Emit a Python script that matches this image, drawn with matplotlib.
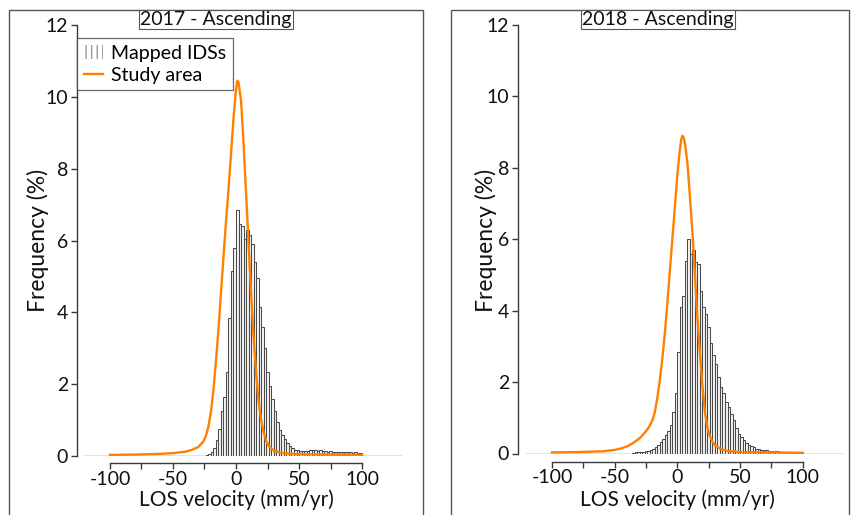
import matplotlib
matplotlib.use('Agg')
import matplotlib.pyplot as plt
from matplotlib.patches import Rectangle
from matplotlib.lines import Line2D
import numpy as np

plt.rcParams['font.family'] = ['Lato', 'DejaVu Sans']

# ---------------- data ----------------
bin_width = 2.0
first_center_2017 = -23
freq_2017 = [0.03, 0.06, 0.12, 0.22, 0.45, 0.75, 1.25, 1.65, 2.35, 3.85, 5.15, 5.8,
             6.85, 6.45, 6.4, 6.05, 6.3, 6.15, 5.9, 5.4, 4.95, 4.15, 3.6, 3.0, 2.35,
             1.95, 1.6, 1.25, 0.95, 0.72, 0.58, 0.48, 0.36, 0.27, 0.22, 0.18, 0.16,
             0.15, 0.14, 0.13, 0.14, 0.16, 0.17, 0.16, 0.15, 0.16, 0.14, 0.13, 0.12,
             0.13, 0.12, 0.11, 0.12, 0.11, 0.1, 0.1, 0.11, 0.1, 0.09, 0.1, 0.08, 0.07]
first_center_2018 = -35
freq_2018 = [0.02, 0.03, 0.03, 0.04, 0.05, 0.06, 0.08, 0.1, 0.13, 0.18, 0.25, 0.33,
             0.42, 0.52, 0.62, 0.8, 1.15, 1.7,
             2.85, 4.1, 4.4, 5.4, 6.0, 5.6, 5.7, 5.35, 5.3, 4.55, 4.1, 3.9, 3.55, 3.1,
             2.75, 2.5, 2.15, 1.85, 1.7, 1.45, 1.3, 1.1, 0.95, 0.72, 0.56,
             0.46, 0.37, 0.3, 0.24, 0.2, 0.17, 0.14, 0.12, 0.11, 0.1, 0.09, 0.08, 0.07,
             0.07, 0.06, 0.05, 0.05, 0.04, 0.04, 0.03, 0.03, 0.02, 0.02, 0.02, 0.01]

curve_2017_x = [-100, -80, -60, -50, -40, -35, -30, -26, -24, -22, -20, -18, -16, -14,
                -12, -10, -8, -6, -4, -2, 0, 1, 2, 4, 6, 8, 10, 12, 14, 16, 18, 20,
                22, 24, 26, 30, 35, 40, 50, 70, 100]
curve_2017_y = [0.03, 0.04, 0.06, 0.08, 0.12, 0.17, 0.25, 0.4, 0.55, 0.8, 1.2, 1.8,
                2.6, 3.5, 4.5, 5.5, 6.5, 7.4, 8.4, 9.4, 10.2, 10.45, 10.4, 9.9, 8.7,
                7.3, 5.9, 4.5, 3.3, 2.3, 1.5, 1.0, 0.65, 0.42, 0.28, 0.15, 0.09, 0.07,
                0.05, 0.04, 0.03]
curve_2018_x = [-100, -80, -60, -50, -45, -40, -35, -30, -26, -23, -20, -18, -16, -14,
                -12, -10, -8, -6, -4, -2, 0, 2, 3, 4, 5, 6, 8, 10, 12, 14, 16, 18, 20,
                22, 24, 26, 28, 30, 35, 40, 50, 100]
curve_2018_y = [0.03, 0.04, 0.06, 0.1, 0.14, 0.2, 0.3, 0.43, 0.58, 0.72, 0.92, 1.15,
                1.55, 2.05, 2.65, 3.35, 4.2, 5.1, 6.0, 6.9, 7.8, 8.5, 8.78, 8.9, 8.85,
                8.7, 8.15, 7.2, 6.2, 5.0, 3.8, 2.8, 1.9, 1.15, 0.72, 0.48, 0.33, 0.23,
                0.12, 0.07, 0.04, 0.02]

titles = ['2017 - Ascending', '2018 - Ascending']
xticks = [-100, -50, 0, 50, 100]
xminor = [-75, -25, 25, 75]
yticks = [0, 2, 4, 6, 8, 10, 12]
legend_labels = ['Mapped IDSs', 'Study area']
xlabel = 'LOS velocity (mm/yr)'
ylabel = 'Frequency (%)'

# ---------------- layout ----------------
W, H = 851, 515
fig = plt.figure(figsize=(W / 100, H / 100), dpi=100)

def fx(px):
    return px / W

def fy(py):
    return 1 - py / H

ORANGE = '#FF8000'
SPINE = '#3a3a3a'
TXT = '#111111'

panels = [
    dict(box=(9, 10, 423, 520), ax=(83, 25, 402, 456), xlim=(-121.4, 131.7),
         yoff=6, xoff=7, title_c=216, ylab_x=38, xlab_c=236,
         first=first_center_2017, freq=freq_2017, cx=curve_2017_x, cy=curve_2017_y,
         legend=True),
    dict(box=(451, 10, 849, 520), ax=(526, 25, 843, 453.5), xlim=(-120.7, 132.1),
         yoff=8, xoff=8, title_c=658, ylab_x=486, xlab_c=677,
         first=first_center_2018, freq=freq_2018, cx=curve_2018_x, cy=curve_2018_y,
         legend=False),
]

for i, p in enumerate(panels):
    bx0, by0, bx1, by1 = p['box']
    fig.add_artist(Rectangle((fx(bx0), fy(by1)), fx(bx1) - fx(bx0), fy(by0) - fy(by1),
                             transform=fig.transFigure, fill=False, ec='#555555',
                             lw=1.0, zorder=0))
    x0, y0, x1, y1 = p['ax']
    ax = fig.add_axes([fx(x0), fy(y1), fx(x1) - fx(x0), fy(y0) - fy(y1)])
    ax.set_facecolor('none')
    centers = [p['first'] + bin_width * k for k in range(len(p['freq']))]
    ax.bar(centers, p['freq'], width=bin_width, facecolor='#f4f4f4',
           edgecolor='#4a4a4a', linewidth=0.75, zorder=2)
    ax.axhline(0, color='#707070', lw=1.0, zorder=1)
    ax.plot(p['cx'], p['cy'], color=ORANGE, lw=1.7, zorder=3)
    ax.set_xlim(*p['xlim'])
    ax.set_ylim(0, 12)

    for s in ['top', 'right']:
        ax.spines[s].set_visible(False)
    ax.spines['left'].set_position(('outward', p['yoff'] * 0.72))
    ax.spines['bottom'].set_position(('outward', p['xoff'] * 0.72))
    ax.spines['bottom'].set_bounds(-100, 100)
    for s in ['left', 'bottom']:
        ax.spines[s].set_color(SPINE)
        ax.spines[s].set_linewidth(1.0)

    ax.set_xticks(xticks)
    ax.set_xticks(xminor, minor=True)
    ax.set_yticks(yticks)
    ax.tick_params(axis='both', which='both', direction='out', length=4.5,
                   width=1.0, color=SPINE, labelsize=14, labelcolor=TXT)
    ax.tick_params(axis='x', pad=1)
    ax.tick_params(axis='y', pad=2)
    ax.set_xticklabels([str(t) for t in xticks])

    fig.text(fx(p['xlab_c']), fy(500), xlabel, fontsize=15, color=TXT,
             ha='center', va='center')
    fig.text(fx(p['ylab_x']), fy(240), ylabel, rotation=90, fontsize=16.5,
             color=TXT, ha='center', va='center')

    fig.text(fx(p['title_c']), fy(19.5), titles[i], fontsize=14, color=TXT,
             ha='center', va='center',
             bbox=dict(boxstyle='square,pad=0.05', fc='white', ec='#555555', lw=0.8))

    if p['legend']:
        h_bar = Rectangle((0, 0), 1, 1, facecolor='white', edgecolor='#9a9a9a',
                          hatch='|||', lw=0)
        h_line = Line2D([0], [0], color=ORANGE, lw=1.7)
        leg = ax.legend([h_bar, h_line], legend_labels, loc='upper left',
                        bbox_to_anchor=(fx(77), fy(38)), bbox_transform=fig.transFigure,
                        borderaxespad=0, frameon=True, fancybox=False,
                        edgecolor='#444444', fontsize=14, handlelength=1.0,
                        handleheight=0.7, handletextpad=0.4, borderpad=0.35,
                        labelspacing=0.25)
        leg.get_frame().set_linewidth(0.9)

fig.savefig('out.png', dpi=100)
